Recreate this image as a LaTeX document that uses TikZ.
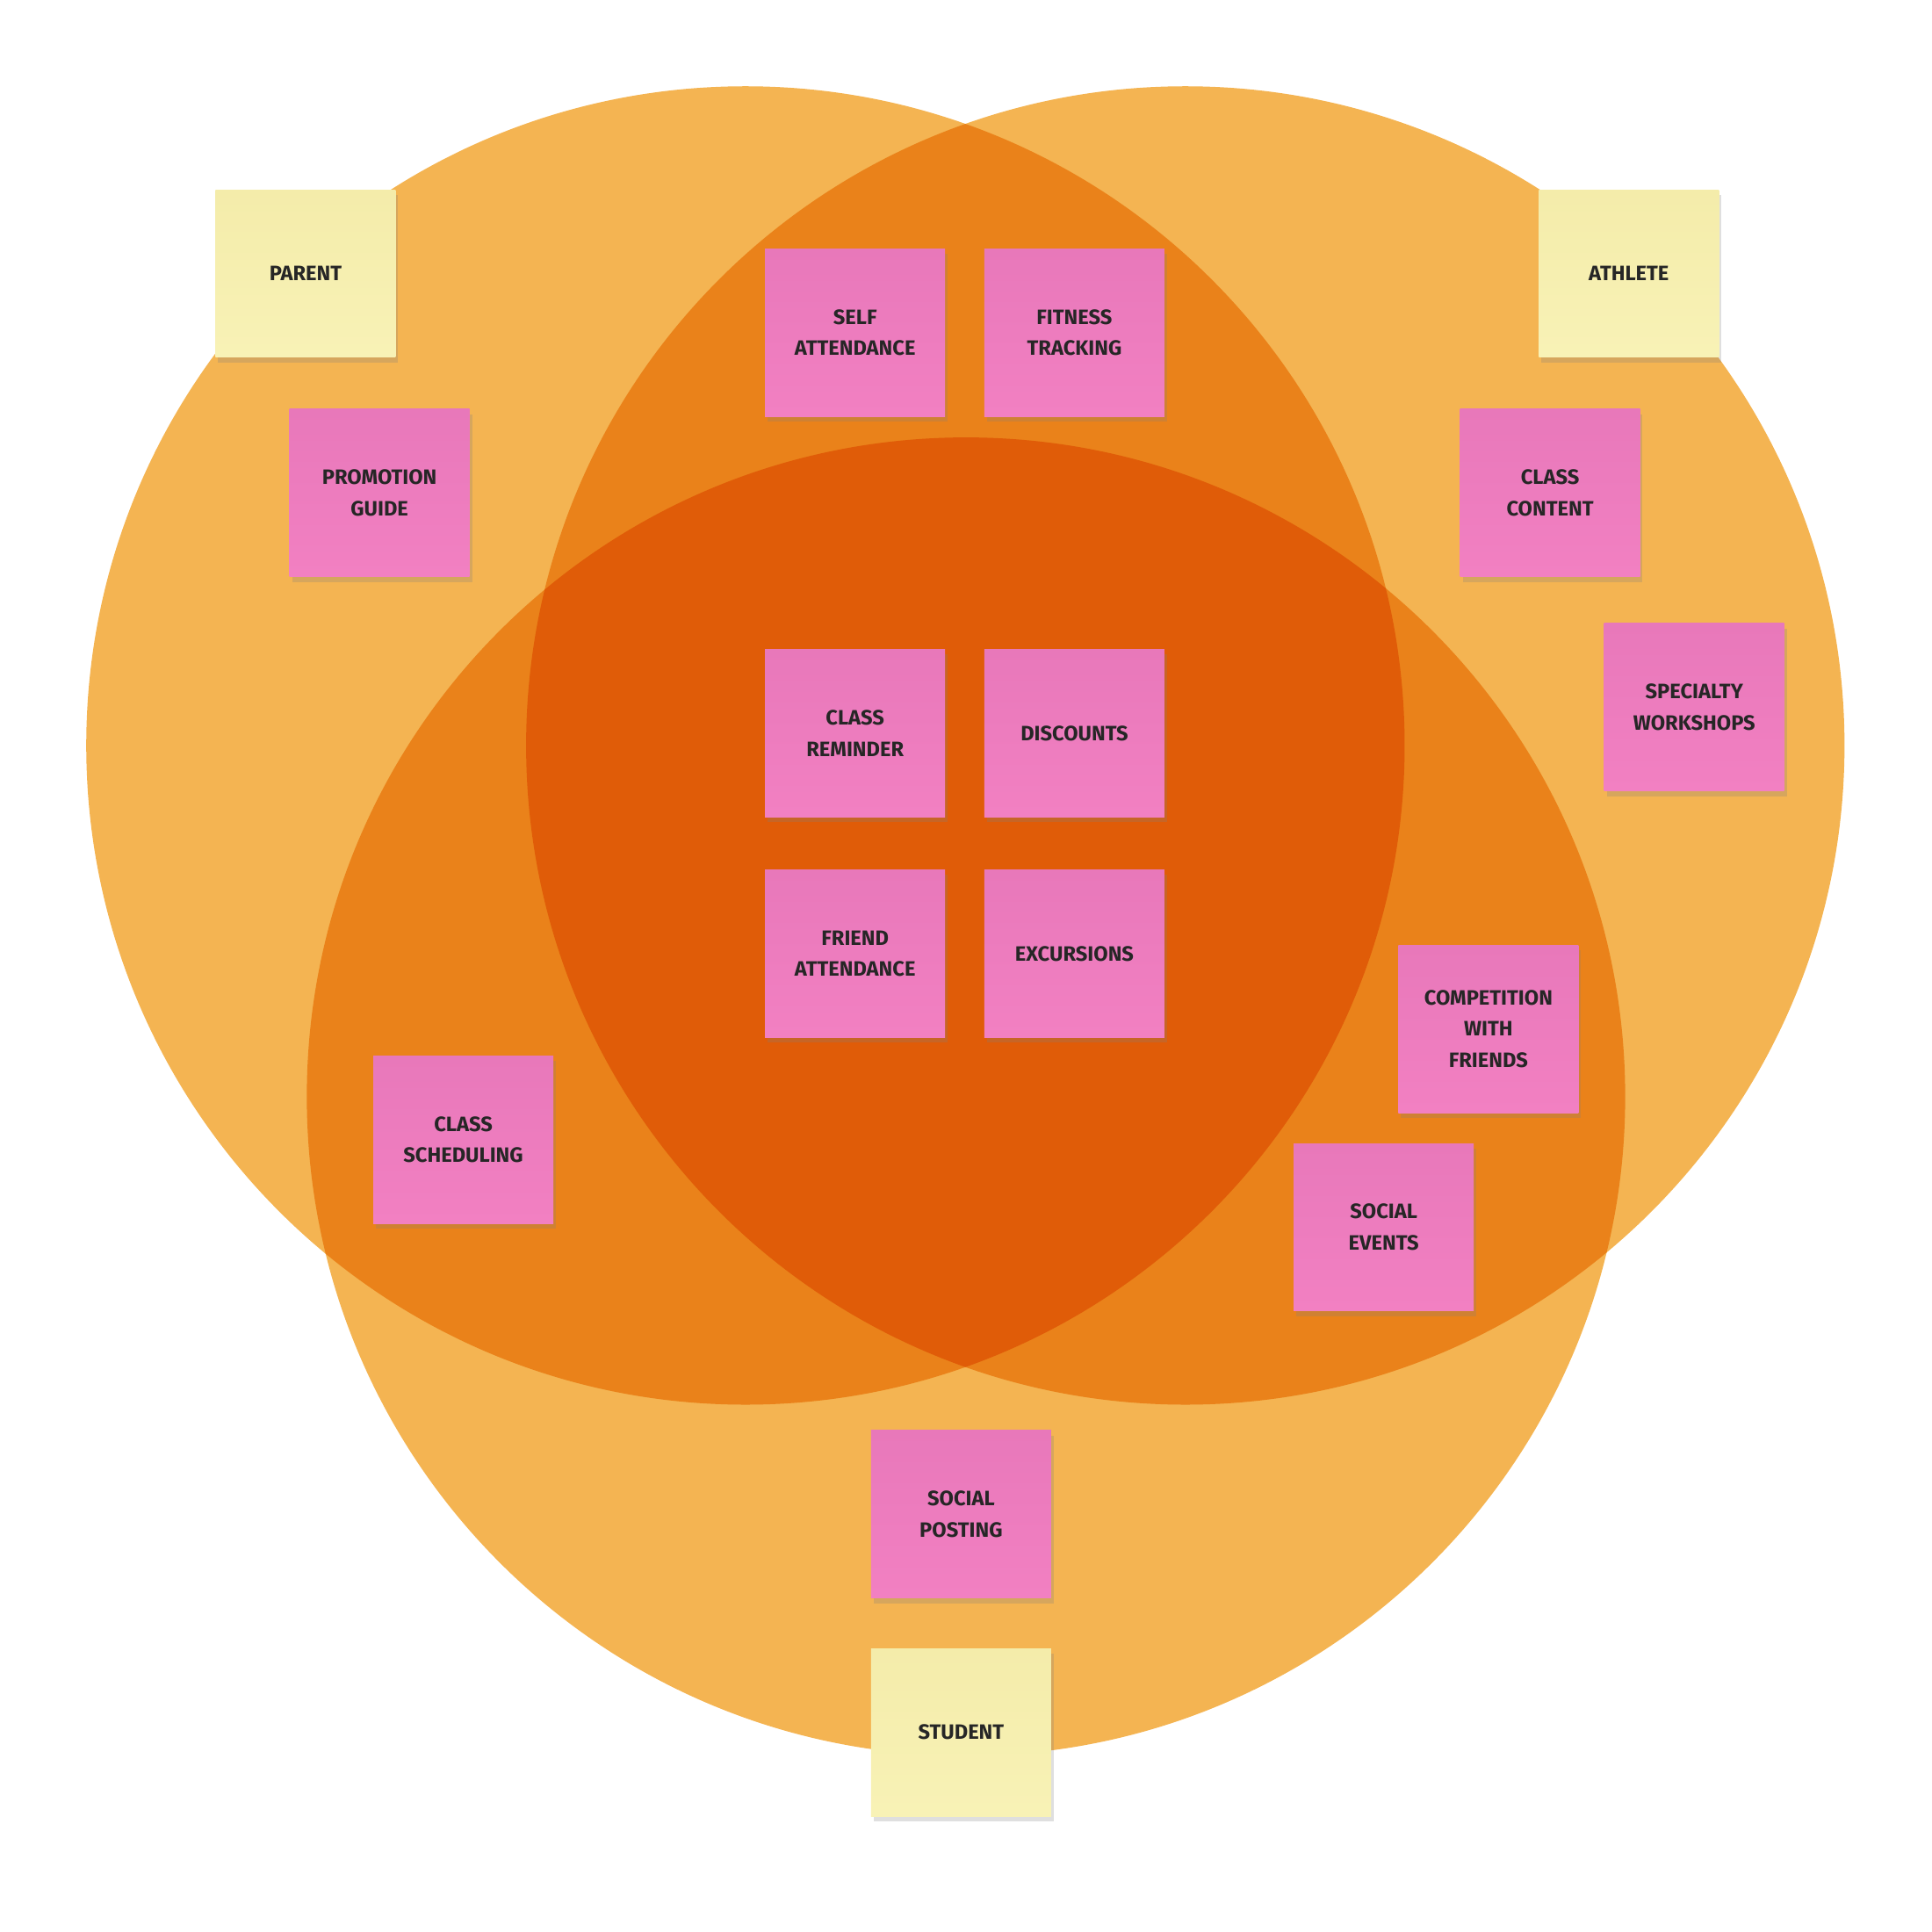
\documentclass[tikz,border=0pt]{standalone}
\usepackage{fontspec}
\setmainfont{Fira Sans}
\usetikzlibrary{shadows}
\definecolor{ringLight}{RGB}{244,180,82}
\definecolor{ringMid}{RGB}{234,130,26}
\definecolor{ringDark}{RGB}{224,92,8}
\definecolor{notePink}{RGB}{242,128,194}
\definecolor{notePinkTop}{RGB}{232,120,186}
\definecolor{noteYellow}{RGB}{248,242,182}
\definecolor{noteYellowTop}{RGB}{244,236,170}
\tikzset{
  note/.style={minimum width=1.46cm, minimum height=1.36cm, align=center, inner sep=1pt,
    font=\fontsize{4.8}{7.2}\selectfont\bfseries, text=black!85,
    drop shadow={shadow xshift=0.6pt, shadow yshift=-1.2pt, opacity=0.25}},
  task/.style={note, top color=notePinkTop, bottom color=notePink},
  role/.style={note, top color=noteYellowTop, bottom color=noteYellow}
}
\begin{document}
\begin{tikzpicture}[x=0.01cm, y=-0.01cm]
\useasboundingbox (0,0) rectangle (1568,1568);
%Circles
\fill[ringLight] (605,605) circle (535);
\fill[ringLight] (962,605) circle (535);
\fill[ringLight] (784,890) circle (535);
%Pairwise overlaps
\begin{scope}
  \clip (605,605) circle (535);
  \fill[ringMid] (962,605) circle (535);
  \fill[ringMid] (784,890) circle (535);
\end{scope}
\begin{scope}
  \clip (962,605) circle (535);
  \fill[ringMid] (784,890) circle (535);
\end{scope}
%Centre overlap
\begin{scope}
  \clip (605,605) circle (535);
  \clip (962,605) circle (535);
  \fill[ringDark] (784,890) circle (535);
\end{scope}
%Roles
\node[role] (parent) at (248,222) {PARENT};
\node[role] (athlete) at (1322,222) {ATHLETE};
\node[role] (student) at (780,1406) {STUDENT};
%Features
\node[task] (promo) at (308,400) {PROMOTION\\GUIDE};
\node[task] (selfAtt) at (694,270) {SELF\\ATTENDANCE};
\node[task] (fitness) at (872,270) {FITNESS\\TRACKING};
\node[task] (content) at (1258,400) {CLASS\\CONTENT};
\node[task] (workshops) at (1375,574) {SPECIALTY\\WORKSHOPS};
\node[task] (reminder) at (694,595) {CLASS\\REMINDER};
\node[task] (discounts) at (872,595) {DISCOUNTS};
\node[task] (friendAtt) at (694,774) {FRIEND\\ATTENDANCE};
\node[task] (excursions) at (872,774) {EXCURSIONS};
\node[task] (competition) at (1208,835) {COMPETITION\\WITH\\FRIENDS};
\node[task] (scheduling) at (376,925) {CLASS\\SCHEDULING};
\node[task] (events) at (1123,996) {SOCIAL\\EVENTS};
\node[task] (posting) at (780,1229) {SOCIAL\\POSTING};
\end{tikzpicture}
\end{document}
